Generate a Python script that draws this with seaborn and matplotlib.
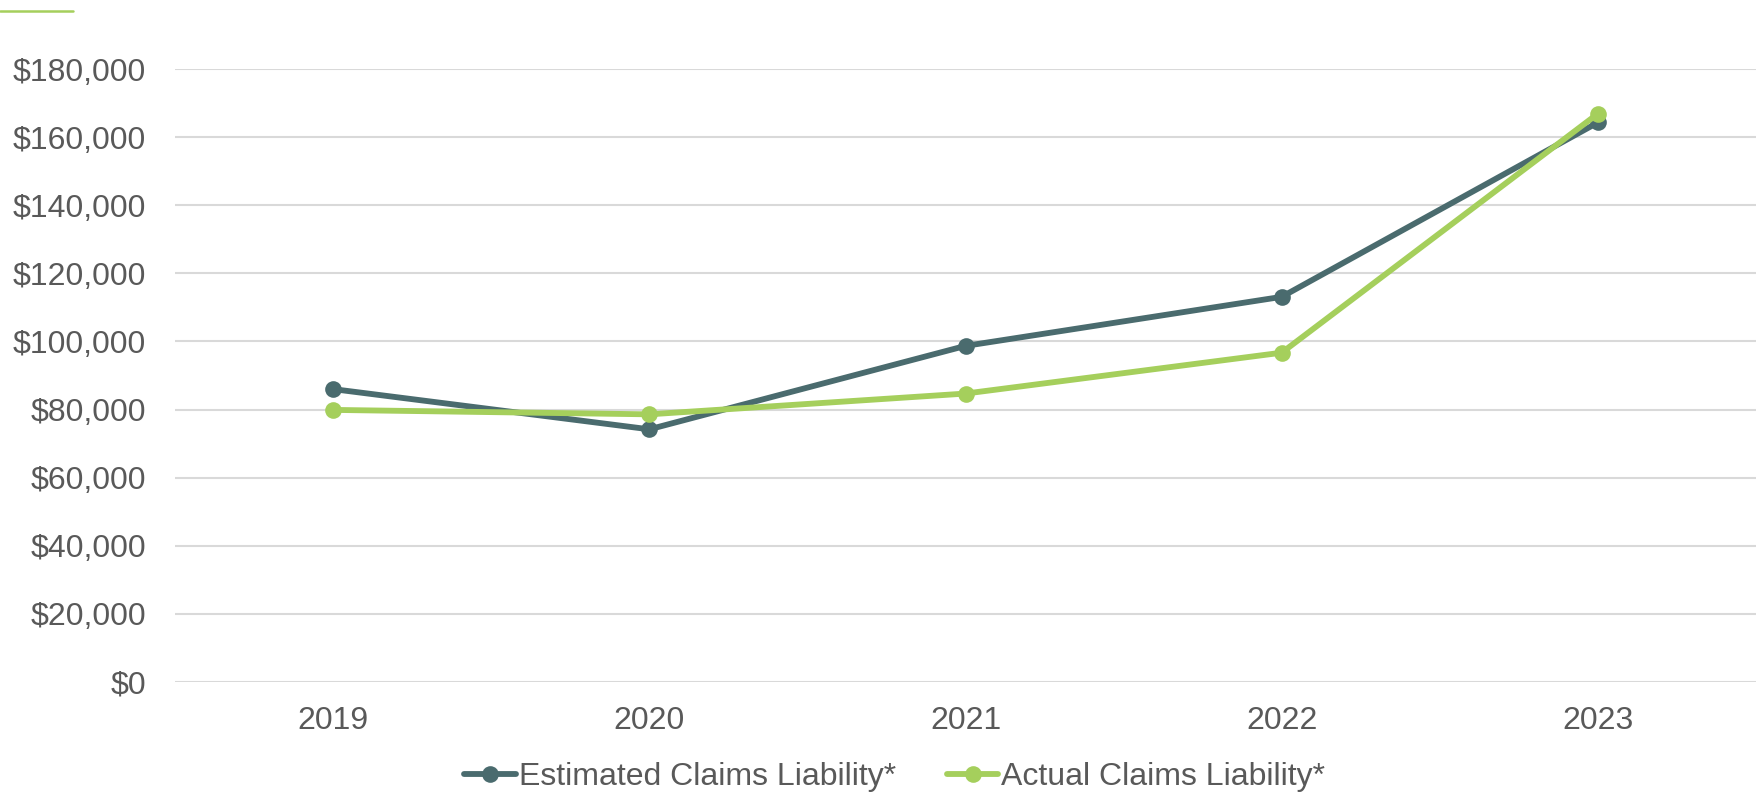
import matplotlib
matplotlib.use("Agg")
import matplotlib.pyplot as plt
from matplotlib.lines import Line2D
from matplotlib.ticker import FuncFormatter, MultipleLocator
import seaborn as sns
import pandas as pd

years = ["2019", "2020", "2021", "2022", "2023"]
estimated = [86000, 74200, 98700, 113100, 164300]
actual = [79900, 78600, 84700, 96700, 166900]
series_names = ["Estimated Claims Liability*", "Actual Claims Liability*"]
colors = ["#4A6B6E", "#A5CF5C"]

df = pd.DataFrame({
    "Year": years * 2,
    "Value": estimated + actual,
    "Series": [series_names[0]] * len(years) + [series_names[1]] * len(years),
})
df["x"] = df["Year"].map({y: i for i, y in enumerate(years)})

sns.set_theme(style="white")
plt.rcParams["font.family"] = ["Liberation Sans", "DejaVu Sans"]
text_color = "#595959"

fig = plt.figure(figsize=(17.65, 7.97), dpi=100)
ax = fig.add_axes([0.0992, 0.1443, 0.8957, 0.7691])

sns.lineplot(
    data=df, x="x", y="Value", hue="Series", hue_order=series_names,
    palette=colors, marker="o", markersize=12, markeredgewidth=0,
    linewidth=4.2, ax=ax, legend=False, sort=False,
)

ax.set_xlim(-0.5, len(years) - 0.5)
ax.set_ylim(0, 180000)
ax.set_xticks(range(len(years)))
ax.set_xticklabels(years)
ax.yaxis.set_major_locator(MultipleLocator(20000))
ax.yaxis.set_major_formatter(FuncFormatter(lambda v, _: f"${v:,.0f}"))
ax.set_xlabel("")
ax.set_ylabel("")
ax.grid(axis="y", color="#D9D9D9", linewidth=1.5)
ax.set_axisbelow(True)
for s in ax.spines.values():
    s.set_visible(False)
ax.tick_params(axis="both", length=0, labelsize=23, labelcolor=text_color)
ax.tick_params(axis="x", pad=17)
ax.tick_params(axis="y", pad=21)

handles = [
    Line2D([], [], color=c, linewidth=4.2, marker="o", markersize=12, markeredgewidth=0)
    for c in colors
]
leg = fig.legend(
    handles, series_names, loc="center", bbox_to_anchor=(0.507, 0.025),
    ncol=2, frameon=False, fontsize=23, handlelength=1.6, handletextpad=0.1,
    columnspacing=1.6,
)
for t in leg.get_texts():
    t.set_color(text_color)

# Short accent rule in the top-left corner
fig.add_artist(Line2D([0, 73 / 1765], [1 - 11 / 797] * 2, color="#A5CF5C",
                      linewidth=1.8, transform=fig.transFigure))

fig.savefig("out.png", dpi=100)
